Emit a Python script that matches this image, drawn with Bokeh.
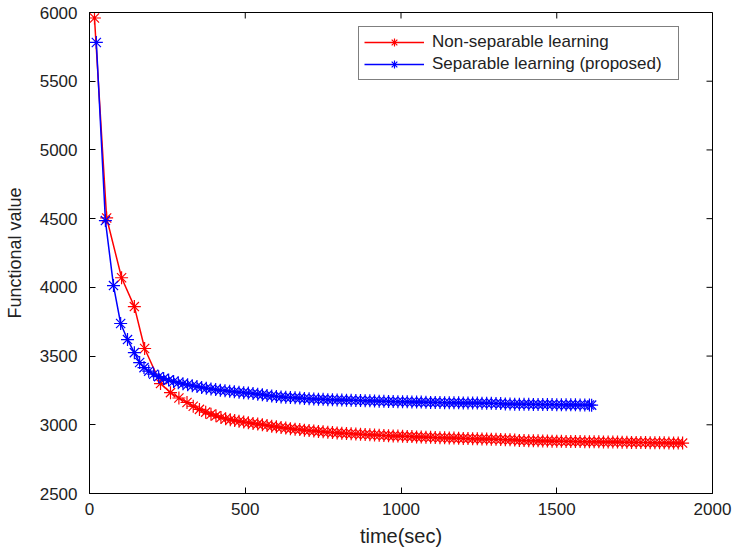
import math
from bokeh.plotting import figure
from bokeh.models import Range1d, FixedTicker, Legend, LegendItem
from bokeh.embed import file_html
from bokeh.resources import INLINE

# Non-separable learning (red)
red_t = [16, 55, 103, 144, 177, 228, 260, 287, 313, 333, 353, 373, 390, 406, 422, 437, 452, 466,
         480, 495, 510, 525, 540, 555, 570, 585, 600, 615, 630, 645, 660, 675, 690, 705, 720, 735,
         750, 765, 780, 795, 810, 825, 840, 855, 870, 885, 900, 915, 930, 945, 960, 975, 990, 1005,
         1020, 1035, 1050, 1065, 1080, 1095, 1110, 1125, 1140, 1155, 1170, 1185, 1200, 1215, 1230,
         1245, 1260, 1275, 1290, 1305, 1320, 1335, 1350, 1365, 1380, 1395, 1410, 1425, 1440, 1455,
         1470, 1485, 1500, 1515, 1530, 1545, 1560, 1575, 1590, 1605, 1620, 1635, 1650, 1665, 1680,
         1695, 1710, 1725, 1740, 1755, 1770, 1785, 1800, 1815, 1830, 1845, 1860, 1875, 1890, 1904]
red_v = [5960, 4505, 4070, 3860, 3555, 3300, 3234, 3195, 3162, 3135, 3112, 3092, 3077, 3065, 3053, 3044, 3037, 3031,
         3026, 3020, 3015, 3010, 3005, 3000, 2995, 2990, 2985, 2980, 2976, 2972, 2968, 2965, 2961, 2958, 2955, 2952,
         2949, 2946, 2944, 2941, 2939, 2937, 2935, 2933, 2931, 2929, 2927, 2926, 2924, 2922, 2921, 2919, 2918, 2916,
         2915, 2914, 2912, 2911, 2910, 2909, 2907, 2906, 2905, 2904, 2903, 2902, 2901, 2900, 2899,
         2898, 2897, 2896, 2895, 2894, 2893, 2892, 2891, 2890, 2886, 2885, 2884, 2884, 2883, 2882,
         2882, 2881, 2880, 2880, 2879, 2879, 2878, 2878, 2877, 2877, 2876, 2876, 2875, 2875, 2874,
         2874, 2873, 2873, 2872, 2872, 2871, 2871, 2870, 2870, 2869, 2869, 2868, 2868, 2867, 2867]

# Separable learning (proposed) (blue)
blue_t = [22, 51, 77, 100, 122, 144, 161, 175, 190, 206, 222, 238, 254, 270, 285, 300,
          315, 330, 345, 360, 375, 390, 405, 420, 435, 450, 465, 480, 495, 510, 525, 540, 555, 570,
          585, 600, 615, 630, 645, 660, 675, 690, 705, 720, 735, 750, 765, 780, 795, 810, 825, 840,
          855, 870, 885, 900, 915, 930, 945, 960, 975, 990, 1005, 1020, 1035, 1050, 1065, 1080, 1095,
          1110, 1125, 1140, 1155, 1170, 1185, 1200, 1215, 1230, 1245, 1260, 1275, 1290, 1305, 1320,
          1335, 1350, 1365, 1380, 1395, 1410, 1425, 1440, 1455, 1470, 1485, 1500, 1515, 1530, 1545,
          1560, 1575, 1590, 1605, 1612]
blue_v = [5782, 4486, 4013, 3737, 3620, 3525, 3453, 3416, 3390, 3368, 3350, 3336, 3325, 3315, 3306, 3298,
          3291, 3284, 3278, 3272, 3266, 3261, 3256, 3252, 3248, 3244, 3240, 3237, 3234, 3231, 3227, 3223, 3219, 3214,
          3210, 3206, 3203, 3200, 3198, 3196, 3194, 3192, 3190, 3188, 3186, 3185, 3183, 3182, 3181, 3180, 3179, 3178,
          3177, 3176, 3175, 3174, 3173, 3172, 3171, 3170, 3169, 3168, 3168, 3167, 3166, 3165, 3165, 3164, 3163,
          3163, 3162, 3161, 3161, 3160, 3160, 3159, 3159, 3158, 3158, 3157, 3157, 3156, 3155, 3154,
          3152, 3151, 3150, 3150, 3149, 3149, 3148, 3148, 3147, 3147, 3147, 3146, 3146, 3145, 3145,
          3145, 3144, 3144, 3144, 3143]

x_ticks = [0, 500, 1000, 1500, 2000]
y_ticks = [2500, 3000, 3500, 4000, 4500, 5000, 5500, 6000]
labels = ["Non-separable learning", "Separable learning (proposed)"]

FONT = "Liberation Sans"
X_MIN, X_MAX = 0, 2000
Y_MIN, Y_MAX = 2500, 6000

p = figure(width=732, height=556, output_backend="svg", toolbar_location=None,
           x_range=Range1d(X_MIN, X_MAX), y_range=Range1d(Y_MIN, Y_MAX),
           min_border_left=89, min_border_right=20, min_border_top=12, min_border_bottom=63)
p.xgrid.visible = False
p.ygrid.visible = False
p.outline_line_color = "black"
p.outline_line_width = 1
p.background_fill_color = "white"
p.border_fill_color = "white"

for ax in (p.xaxis[0], p.yaxis[0]):
    ax.major_tick_in = 6
    ax.major_tick_out = 0
    ax.minor_tick_in = 0
    ax.minor_tick_out = 0
    ax.axis_line_color = "black"
    ax.major_tick_line_color = "black"
    ax.major_label_text_font = FONT
    ax.major_label_text_font_size = "17px"
    ax.major_label_text_color = "#222222"
    ax.axis_label_text_font = FONT
    ax.axis_label_text_font_style = "normal"
    ax.axis_label_text_color = "#222222"

p.xaxis.axis_label_text_font_size = "20px"
p.yaxis.axis_label_text_font_size = "18px"
p.xaxis.ticker = FixedTicker(ticks=x_ticks)
p.yaxis.ticker = FixedTicker(ticks=y_ticks)
p.xaxis.axis_label = "time(sec)"
p.yaxis.axis_label = "Functional value"
p.xaxis.major_label_standoff = 9
p.yaxis.major_label_standoff = 12
p.xaxis.axis_label_standoff = 7
p.yaxis.axis_label_standoff = 12

# inward tick marks on the top and right edges of the box (clipped to the frame)
p.scatter(x_ticks, [Y_MAX] * len(x_ticks), marker="dash", angle=math.pi / 2, size=12,
          line_color="black", line_width=1)
p.scatter([X_MAX] * len(y_ticks), y_ticks, marker="dash", size=12,
          line_color="black", line_width=1)

r_line = p.line(red_t, red_v, color="#ff0000", line_width=1.5)
r_mark = p.scatter(red_t, red_v, marker="asterisk", size=13, line_color="#ff0000", line_width=1.2)
b_line = p.line(blue_t, blue_v, color="#0000ff", line_width=1.5)
b_mark = p.scatter(blue_t, blue_v, marker="asterisk", size=13, line_color="#0000ff", line_width=1.2)

legend = Legend(items=[LegendItem(label=labels[0], renderers=[r_line, r_mark]),
                       LegendItem(label=labels[1], renderers=[b_line, b_mark])],
                location=(269, 413), label_text_font=FONT, label_text_font_size="17px",
                label_text_color="#222222",
                glyph_width=60, glyph_height=20, label_height=20, label_width=241,
                label_standoff=8, padding=5, spacing=2,
                border_line_color="black", border_line_width=1, background_fill_alpha=1,
                margin=0)
p.add_layout(legend, "center")

open("out.html", "w").write(file_html(p, INLINE))
